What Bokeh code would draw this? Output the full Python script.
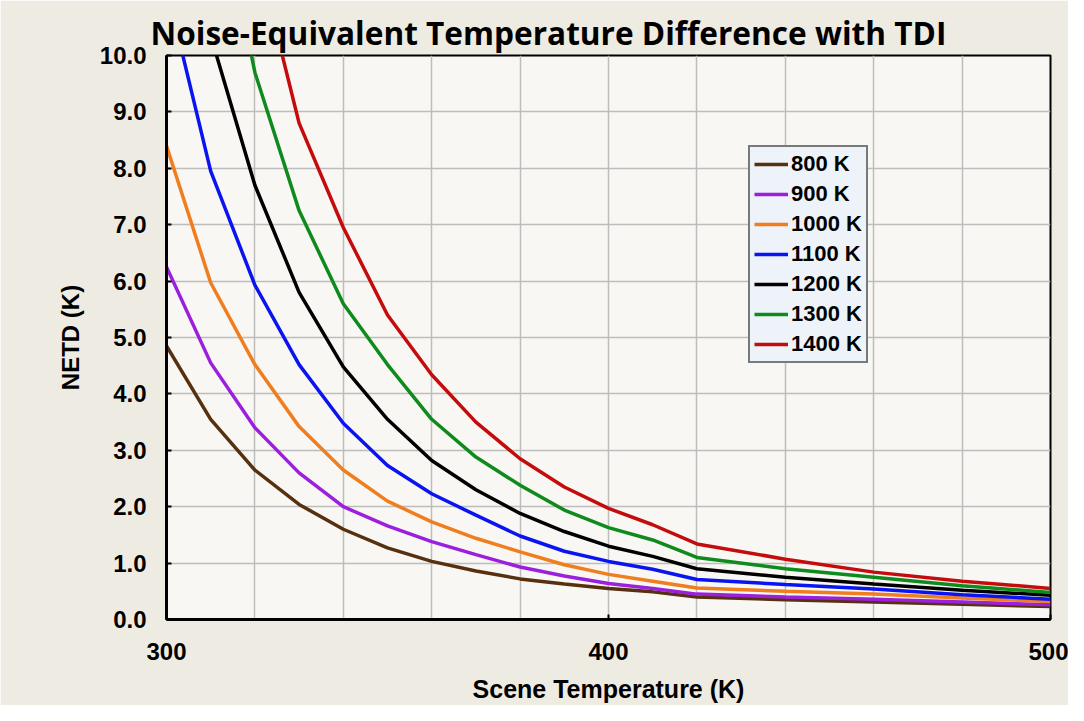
from bokeh.plotting import figure
from bokeh.models import Range1d, FixedTicker, PrintfTickFormatter, Legend, LegendItem, Title
from bokeh.embed import file_html
from bokeh.resources import INLINE

scene_temp = [300, 310, 320, 330, 340, 350, 360, 370, 380, 390, 400, 410, 420, 440, 460, 480, 500]
netd_800 = [4.85, 3.55, 2.65, 2.04, 1.60, 1.27, 1.03, 0.86, 0.72, 0.63, 0.55, 0.49, 0.40, 0.35, 0.31, 0.27, 0.23]
netd_900 = [6.25, 4.55, 3.40, 2.60, 2.00, 1.66, 1.38, 1.15, 0.93, 0.77, 0.64, 0.55, 0.45, 0.40, 0.36, 0.31, 0.26]
netd_1000 = [8.40, 5.97, 4.52, 3.42, 2.65, 2.10, 1.73, 1.44, 1.20, 0.97, 0.80, 0.68, 0.56, 0.50, 0.45, 0.38, 0.32]
netd_1100 = [11.2, 7.95, 5.93, 4.52, 3.48, 2.73, 2.23, 1.85, 1.48, 1.21, 1.03, 0.89, 0.71, 0.62, 0.54, 0.44, 0.36]
netd_1200 = [14.5, 10.35, 7.70, 5.80, 4.48, 3.55, 2.82, 2.30, 1.88, 1.56, 1.30, 1.12, 0.90, 0.75, 0.63, 0.52, 0.43]
netd_1300 = [18.5, 13.5, 9.70, 7.25, 5.60, 4.52, 3.55, 2.88, 2.38, 1.94, 1.63, 1.41, 1.10, 0.90, 0.75, 0.60, 0.48]
netd_1400 = [23.0, 16.5, 11.96, 8.80, 6.95, 5.40, 4.34, 3.50, 2.85, 2.35, 1.97, 1.68, 1.34, 1.07, 0.84, 0.68, 0.55]

series_names = ["800 K", "900 K", "1000 K", "1100 K", "1200 K", "1300 K", "1400 K"]
series_values = [netd_800, netd_900, netd_1000, netd_1100, netd_1200, netd_1300, netd_1400]
series_colors = ["#56300f", "#9b1fdc", "#f07d1e", "#0a14f0", "#000000", "#0f8a1c", "#c40c0c"]

x_ticks = [300, 400, 500]
x_grid = [300, 320, 340, 360, 380, 400, 420, 440, 460, 480, 500]
y_ticks = [0, 1, 2, 3, 4, 5, 6, 7, 8, 9, 10]

p = figure(width=1068, height=705, output_backend="svg", toolbar_location=None,
           x_range=Range1d(300, 500), y_range=Range1d(0, 10),
           min_border_left=166, min_border_right=18, min_border_top=55, min_border_bottom=85)

p.background_fill_color = "#f8f7f3"
p.border_fill_color = "#eeebe3"
p.outline_line_color = "#000000"
p.outline_line_width = 2

title = Title(text="Noise-Equivalent Temperature Difference with TDI", align="left", offset=-16,
              text_font="Open Sans", text_font_style="bold", text_font_size="31.6px",
              text_color="#000000", standoff=3)
p.add_layout(title, "above")

items = []
for name, vals, col in zip(series_names, series_values, series_colors):
    r = p.line(scene_temp, vals, line_color=col, line_width=3.5)
    items.append(LegendItem(label=name, renderers=[r]))

p.xaxis.ticker = FixedTicker(ticks=x_ticks)
p.yaxis.ticker = FixedTicker(ticks=y_ticks)
p.xgrid.ticker = FixedTicker(ticks=x_grid)
p.ygrid.ticker = FixedTicker(ticks=y_ticks)
p.yaxis.formatter = PrintfTickFormatter(format="%.1f")

for g in (p.xgrid, p.ygrid):
    g.grid_line_color = "#bdbdbd"
    g.grid_line_width = 1.5

for ax in (p.xaxis, p.yaxis):
    ax.axis_line_color = "#000000"
    ax.axis_line_width = 3
    ax.major_tick_line_color = "#000000"
    ax.major_tick_line_width = 2
    ax.major_tick_in = 5
    ax.major_tick_out = 0
    ax.minor_tick_line_color = None
    ax.major_label_text_font = "Liberation Sans"
    ax.major_label_text_font_style = "bold"
    ax.major_label_text_font_size = "24px"
    ax.major_label_text_color = "#000000"
    ax.axis_label_text_font = "Liberation Sans"
    ax.axis_label_text_font_style = "bold"
    ax.axis_label_text_color = "#000000"

p.xaxis.axis_label = "Scene Temperature (K)"
p.yaxis.axis_label = "NETD (K)"
p.xaxis.axis_label_text_font_size = "25px"
p.yaxis.axis_label_text_font_size = "24px"
p.xaxis.major_label_standoff = 23
p.yaxis.major_label_standoff = 20
p.xaxis.axis_label_standoff = 12
p.yaxis.axis_label_standoff = 13

legend = Legend(items=items, location=(582, 256))
legend.background_fill_color = "#eef3fa"
legend.background_fill_alpha = 1.0
legend.border_line_color = "#000000"
legend.border_line_width = 2
legend.label_text_font = "Liberation Sans"
legend.label_text_font_style = "bold"
legend.label_text_font_size = "22px"
legend.label_text_color = "#000000"
legend.glyph_width = 34
legend.glyph_height = 20
legend.label_standoff = 3
legend.padding = 4
legend.spacing = 4
legend.margin = 0
p.add_layout(legend, "center")

open("out.html", "w").write(file_html(p, INLINE))
